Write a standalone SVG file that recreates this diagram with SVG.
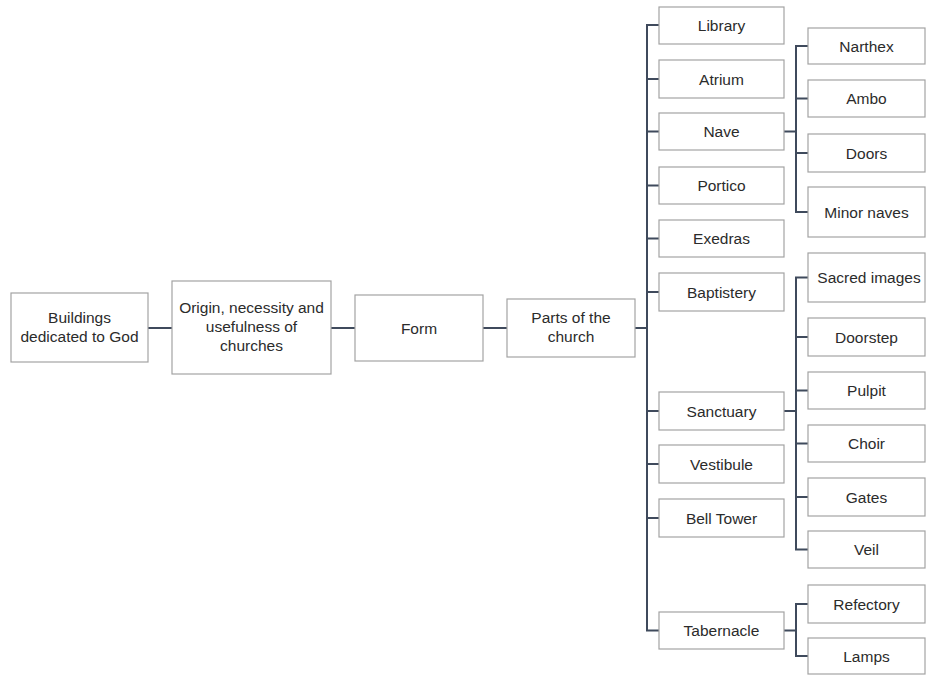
<svg xmlns="http://www.w3.org/2000/svg" width="926" height="675" viewBox="0 0 926 675">
  <style>
    .box { fill: #ffffff; stroke: #a3a3a3; stroke-width: 1.2; }
    .lbl { font-family: "Liberation Sans", Arial, sans-serif; font-size: 15.5px; fill: #2b2b2b; text-anchor: middle; }
    .wire { fill: none; stroke: #3f4a5c; stroke-width: 2; }
  </style>
  <rect width="926" height="675" fill="#ffffff"/>

  <!-- connectors -->
  <g id="connectors" class="wire">
    <path d="M148 328H172M331 328H355M483 328H507M635 328H647"/>
    <!-- main trunk to the parts of the church -->
    <path d="M659 25H647V630.5H659"/>
    <path d="M647 79H659M647 131.5H659M647 185.5H659M647 238.5H659M647 292H659M647 411H659M647 464H659M647 518H659"/>
    <!-- nave branch -->
    <path d="M784 131.5H796M808 46H796V212H808M796 98.5H808M796 153H808"/>
    <!-- sanctuary branch -->
    <path d="M784 411H796M808 277.5H796V549.5H808M796 337H808M796 390.5H808M796 443.5H808M796 497H808"/>
    <!-- tabernacle branch -->
    <path d="M784 630.5H796M808 604H796V656H808"/>
  </g>

  <g id="buildings"><rect class="box" x="11" y="293" width="137" height="69"/>
    <text class="lbl" x="79.5" y="323">Buildings</text><text class="lbl" x="79.5" y="342">dedicated to God</text></g>
  <g id="origin"><rect class="box" x="172" y="281" width="159" height="93"/>
    <text class="lbl" x="251.5" y="313">Origin, necessity and</text><text class="lbl" x="251.5" y="332">usefulness of</text><text class="lbl" x="251.5" y="351">churches</text></g>
  <g id="form"><rect class="box" x="355" y="295" width="128" height="66"/>
    <text class="lbl" x="419" y="333.5">Form</text></g>
  <g id="parts"><rect class="box" x="507" y="299" width="128" height="58"/>
    <text class="lbl" x="571" y="323">Parts of the</text><text class="lbl" x="571" y="342">church</text></g>

  <!-- parts of the church -->
  <g id="library"><rect class="box" x="659" y="7" width="125" height="37"/><text class="lbl" x="721.5" y="31">Library</text></g>
  <g id="atrium"><rect class="box" x="659" y="60" width="125" height="38"/><text class="lbl" x="721.5" y="84.5">Atrium</text></g>
  <g id="nave"><rect class="box" x="659" y="113" width="125" height="37"/><text class="lbl" x="721.5" y="137">Nave</text></g>
  <g id="portico"><rect class="box" x="659" y="167" width="125" height="37"/><text class="lbl" x="721.5" y="191">Portico</text></g>
  <g id="exedras"><rect class="box" x="659" y="220" width="125" height="37"/><text class="lbl" x="721.5" y="244">Exedras</text></g>
  <g id="baptistery"><rect class="box" x="659" y="273" width="125" height="38"/><text class="lbl" x="721.5" y="297.5">Baptistery</text></g>
  <g id="sanctuary"><rect class="box" x="659" y="392" width="125" height="38"/><text class="lbl" x="721.5" y="416.5">Sanctuary</text></g>
  <g id="vestibule"><rect class="box" x="659" y="445" width="125" height="38"/><text class="lbl" x="721.5" y="469.5">Vestibule</text></g>
  <g id="bell-tower"><rect class="box" x="659" y="499" width="125" height="38"/><text class="lbl" x="721.5" y="523.5">Bell Tower</text></g>
  <g id="tabernacle"><rect class="box" x="659" y="612" width="125" height="37"/><text class="lbl" x="721.5" y="636">Tabernacle</text></g>

  <!-- nave details -->
  <g id="narthex"><rect class="box" x="808" y="28" width="117" height="36"/><text class="lbl" x="866.5" y="51.5">Narthex</text></g>
  <g id="ambo"><rect class="box" x="808" y="80" width="117" height="37"/><text class="lbl" x="866.5" y="104">Ambo</text></g>
  <g id="doors"><rect class="box" x="808" y="134" width="117" height="38"/><text class="lbl" x="866.5" y="158.5">Doors</text></g>
  <g id="minor-naves"><rect class="box" x="808" y="187" width="117" height="50"/><text class="lbl" x="866.5" y="217.5">Minor naves</text></g>

  <!-- sanctuary details -->
  <g id="sacred-images"><rect class="box" x="808" y="253" width="117" height="49"/><text class="lbl" x="869" y="283">Sacred images</text></g>
  <g id="doorstep"><rect class="box" x="808" y="318" width="117" height="38"/><text class="lbl" x="866.5" y="342.5">Doorstep</text></g>
  <g id="pulpit"><rect class="box" x="808" y="372" width="117" height="37"/><text class="lbl" x="866.5" y="396">Pulpit</text></g>
  <g id="choir"><rect class="box" x="808" y="425" width="117" height="37"/><text class="lbl" x="866.5" y="449">Choir</text></g>
  <g id="gates"><rect class="box" x="808" y="478" width="117" height="38"/><text class="lbl" x="866.5" y="502.5">Gates</text></g>
  <g id="veil"><rect class="box" x="808" y="531" width="117" height="37"/><text class="lbl" x="866.5" y="555">Veil</text></g>

  <!-- tabernacle details -->
  <g id="refectory"><rect class="box" x="808" y="585" width="117" height="38"/><text class="lbl" x="866.5" y="609.5">Refectory</text></g>
  <g id="lamps"><rect class="box" x="808" y="638" width="117" height="36"/><text class="lbl" x="866.5" y="661.5">Lamps</text></g>
</svg>
